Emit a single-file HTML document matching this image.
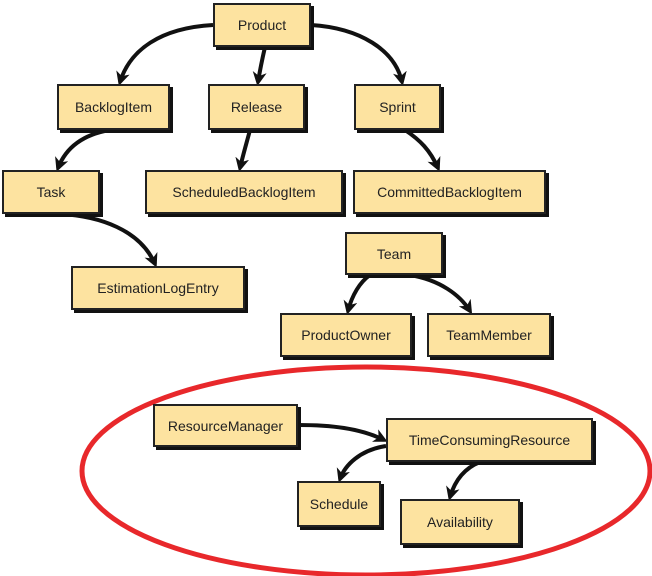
<!DOCTYPE html>
<html><head><style>
body{margin:0;width:652px;height:576px;background:#fff;position:relative;overflow:hidden;font-family:"Liberation Sans",sans-serif}
.b{position:absolute;background:#fde3a0;border:2px solid #222;box-shadow:3px 3px 0 #111;box-sizing:border-box;display:flex;align-items:center;justify-content:center;font-size:14px;color:#222}
svg{position:absolute;left:0;top:0}
</style></head><body>
<svg width="652" height="576" viewBox="0 0 652 576">
<defs><marker id="a" markerWidth="14" markerHeight="14" refX="10" refY="7" orient="auto" markerUnits="userSpaceOnUse"><path d="M0,0 L14,7 L0,14 L4,7Z" fill="#111"/></marker></defs>
<g fill="none" stroke="#111" stroke-width="4" marker-end="url(#a)">
<path d="M213,25 C160,28 130,50 120,82"/>
<path d="M265,47 C262,60 260,70 258,82"/>
<path d="M311,25 C360,28 395,50 402,82"/>
<path d="M110,130 C80,135 65,150 58,168"/>
<path d="M250,130 C246,145 243,155 240,168"/>
<path d="M405,130 C420,140 430,150 438,168"/>
<path d="M60,214 C100,216 140,230 155,264"/>
<path d="M370,275 C360,282 352,295 348,311"/>
<path d="M410,275 C440,280 460,295 470,311"/>
<path d="M298,425 C330,425 360,428 384,440"/>
<path d="M386,446 C360,450 345,465 340,479"/>
<path d="M480,462 C465,468 455,480 450,497"/>
</g>
<ellipse cx="366" cy="471" rx="284" ry="104" fill="none" stroke="#e8282b" stroke-width="5"/>
</svg>
<div class="b" style="left:213px;top:3px;width:98px;height:44px">Product</div>
<div class="b" style="left:57px;top:84px;width:113px;height:46px">BacklogItem</div>
<div class="b" style="left:208px;top:84px;width:97px;height:46px">Release</div>
<div class="b" style="left:354px;top:84px;width:87px;height:46px">Sprint</div>
<div class="b" style="left:2px;top:170px;width:98px;height:44px">Task</div>
<div class="b" style="left:145px;top:170px;width:198px;height:44px">ScheduledBacklogItem</div>
<div class="b" style="left:353px;top:170px;width:193px;height:44px">CommittedBacklogItem</div>
<div class="b" style="left:345px;top:232px;width:98px;height:43px">Team</div>
<div class="b" style="left:71px;top:266px;width:174px;height:44px">EstimationLogEntry</div>
<div class="b" style="left:280px;top:313px;width:132px;height:44px">ProductOwner</div>
<div class="b" style="left:427px;top:313px;width:124px;height:44px">TeamMember</div>
<div class="b" style="left:153px;top:404px;width:145px;height:43px">ResourceManager</div>
<div class="b" style="left:386px;top:418px;width:207px;height:44px">TimeConsumingResource</div>
<div class="b" style="left:297px;top:481px;width:84px;height:46px">Schedule</div>
<div class="b" style="left:400px;top:499px;width:120px;height:46px">Availability</div>
</body></html>
